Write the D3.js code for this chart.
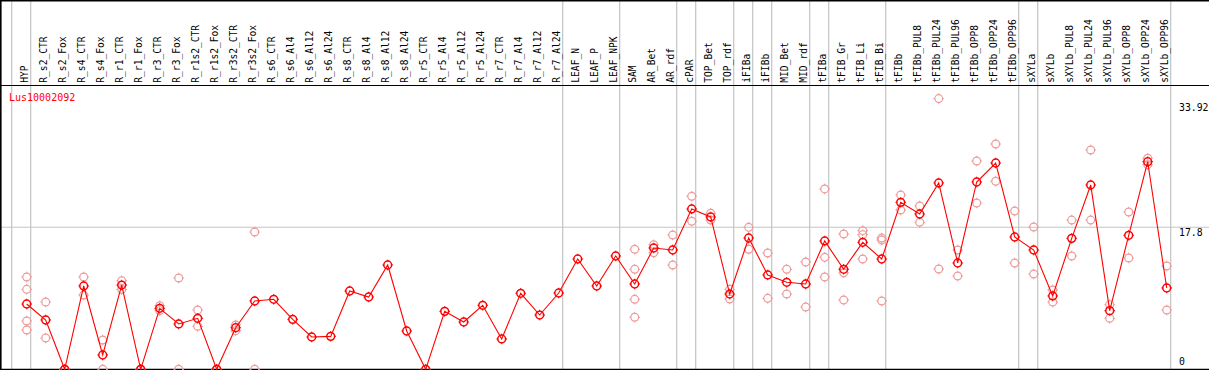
<!DOCTYPE html>
<html>
<head>
<meta charset="utf-8">
<style>
  body { margin: 0; background: #fff; }
  text { font-family: "DejaVu Sans Mono", monospace; }
</style>
</head>
<body>
<script src="https://d3js.org/d3.v7.min.js"></script>
<script>
var geneName = "Lus10002092";

var samples = ["HYP", "R_s2_CTR", "R_s2_Fox", "R_s4_CTR", "R_s4_Fox", "R_r1_CTR", "R_r1_Fox",
  "R_r3_CTR", "R_r3_Fox", "R_r1s2_CTR", "R_r1s2_Fox", "R_r3s2_CTR", "R_r3s2_Fox",
  "R_s6_CTR", "R_s6_Al4", "R_s6_Al12", "R_s6_Al24", "R_s8_CTR", "R_s8_Al4", "R_s8_Al12", "R_s8_Al24",
  "R_r5_CTR", "R_r5_Al4", "R_r5_Al12", "R_r5_Al24", "R_r7_CTR", "R_r7_Al4", "R_r7_Al12", "R_r7_Al24",
  "LEAF_N", "LEAF_P", "LEAF_NPK", "SAM", "AR_Bet", "AR_rdf", "cPAR", "TOP_Bet", "TOP_rdf",
  "iFIBa", "iFIBb", "MID_Bet", "MID_rdf", "tFIBa", "tFIB_Gr", "tFIB_Li", "tFIB_Bi",
  "tFIBb", "tFIBb_PUL8", "tFIBb_PUL24", "tFIBb_PUL96", "tFIBb_OPP8", "tFIBb_OPP24", "tFIBb_OPP96",
  "sXYLa", "sXYLb", "sXYLb_PUL8", "sXYLb_PUL24", "sXYLb_PUL96", "sXYLb_OPP8", "sXYLb_OPP24", "sXYLb_OPP96"];

// number of samples in each tissue group (separated by grey lines)
var groupSizes = [1, 28, 3, 3, 1, 2, 1, 1, 2, 1, 3, 7, 1, 7];

// mean expression
var meanExpr = [8.18, 6.18, 0, 10.44, 1.79, 10.56, 0, 7.64, 5.68, 6.39, 0, 5.21, 8.56,
  8.77, 6.26, 4.05, 4.13, 9.81, 9.06, 13.07, 4.80, 0, 7.26, 5.93, 8.02, 3.8, 9.52, 6.8, 9.56,
  13.82, 10.44, 14.2, 10.69, 15.2, 14.95, 20.09, 19.09, 9.43, 16.45, 11.82, 10.9, 10.69,
  16.08, 12.53, 15.91, 13.82, 20.92, 19.46, 23.35, 13.32, 23.47, 25.85, 16.58,
  14.95, 9.19, 16.41, 23.1, 7.35, 16.79, 26.01, 10.19];

// replicate values
var replicates = [
  [11.57, 10.02, 6.05, 4.92], [8.43, 3.92], [0, 0], [11.57, 9.31], [3.67, 0], [11.1, 10.0], [0, 0],
  [7.97, 7.35], [11.44, 0], [7.43, 5.39], [0, 0], [5.55, 4.84], [17.2, 0],
  [], [], [], [], [], [], [], [], [], [], [], [], [], [], [], [], [], [], [],
  [15.04, 12.53, 8.77, 6.52], [15.6, 14.6], [16.83, 13.07], [21.68, 18.55], [19.55, 18.7],
  [10.02, 8.81], [17.79, 15.04], [14.57, 8.89], [12.53, 9.43], [13.45, 7.81],
  [22.6, 14.03, 11.57], [16.95, 12.1, 8.68], [17.37, 16.87, 13.82], [16.45, 16.2, 8.56],
  [21.84, 19.96], [20.46, 18.42], [33.92, 12.57], [14.95, 11.69], [26.1, 20.84], [28.23, 23.56],
  [19.84, 13.32], [17.83, 11.94], [9.94, 8.43], [18.7, 14.2], [27.48, 18.7], [8.1, 6.39],
  [19.71, 13.95], [26.44, 25.64], [12.94, 7.43]];

var yTicks = [0, 17.8, 33.92];

var width = 1209, height = 370;
var headerH = 85.5, bottom = 369.3;

var svg = d3.select("body").append("svg")
  .attr("width", width)
  .attr("height", height);

var x = d3.scalePoint().domain(samples).range([26.7, 1166.7]);
var y = d3.scaleLinear().domain([0, d3.max(yTicks)]).range([bottom, 98.6]);

// grey separators between groups
var bounds = [x(samples[0]) - 15];
var idx = 0;
groupSizes.forEach(function (n) {
  idx += n;
  bounds.push(x(samples[idx - 1]) + 4);
});
svg.append("g").selectAll("line")
  .data(bounds).enter().append("line")
  .attr("x1", function (d) { return d; })
  .attr("x2", function (d) { return d; })
  .attr("y1", 0).attr("y2", bottom)
  .attr("stroke", "#c4c4c4").attr("stroke-width", 1.2);

// mid gridline
svg.append("line")
  .attr("x1", 0).attr("x2", width)
  .attr("y1", y(17.8)).attr("y2", y(17.8))
  .attr("stroke", "#c4c4c4").attr("stroke-width", 1.2);

// frame
svg.append("line").attr("x1", 0).attr("x2", width).attr("y1", 0.7).attr("y2", 0.7)
  .attr("stroke", "#000").attr("stroke-width", 1.4);
svg.append("line").attr("x1", 0).attr("x2", width).attr("y1", headerH).attr("y2", headerH)
  .attr("stroke", "#000").attr("stroke-width", 1.2);
svg.append("line").attr("x1", 0).attr("x2", width).attr("y1", 369.4).attr("y2", 369.4)
  .attr("stroke", "#000").attr("stroke-width", 1.4);
svg.append("line").attr("x1", 0.8).attr("x2", 0.8).attr("y1", 0).attr("y2", height)
  .attr("stroke", "#000").attr("stroke-width", 1.6);

// sample labels
svg.append("g").selectAll("text")
  .data(samples).enter().append("text")
  .attr("transform", function (d) { return "translate(" + (x(d) + 1.6) + "," + 82.7 + ") rotate(-90)"; })
  .attr("font-size", "9.6px")
  .attr("fill", "#000")
  .text(function (d) { return d; });

function marker(g, color, sw) {
  g.append("circle").attr("r", 3.9)
    .attr("fill", "none").attr("stroke", color).attr("stroke-width", sw);
  g.append("path").attr("d", "M0,-5.3V-3.6M0,3.6V5.3M-5.3,0H-3.6M3.6,0H5.3")
    .attr("stroke", color).attr("stroke-width", 1);
}

// replicates
var repPts = [];
replicates.forEach(function (arr, i) {
  arr.forEach(function (v) { repPts.push({ s: samples[i], v: v }); });
});
svg.append("g").selectAll("g")
  .data(repPts).enter().append("g")
  .attr("transform", function (d) { return "translate(" + x(d.s) + "," + y(d.v) + ")"; })
  .each(function () { marker(d3.select(this), "#ee9a9a", 1.2); });

// mean line
var line = d3.line()
  .x(function (d, i) { return x(samples[i]); })
  .y(function (d) { return y(d); });
svg.append("path")
  .datum(meanExpr)
  .attr("d", line)
  .attr("fill", "none")
  .attr("stroke", "#ff0000")
  .attr("stroke-width", 1.1);

svg.append("g").selectAll("g")
  .data(meanExpr).enter().append("g")
  .attr("transform", function (d, i) { return "translate(" + x(samples[i]) + "," + y(d) + ")"; })
  .each(function () { marker(d3.select(this), "#ff0000", 1.5); });

// y labels on the right
var labelOffset = { 0: -4, 17.8: 8.5, 33.92: 12 };
svg.append("g").selectAll("text")
  .data(yTicks).enter().append("text")
  .attr("x", 1179)
  .attr("y", function (d) { return y(d) + labelOffset[d]; })
  .attr("font-size", "9.8px")
  .attr("fill", "#000")
  .text(function (d) { return d; });

svg.append("text")
  .attr("x", 9).attr("y", 101)
  .attr("font-size", "10px")
  .attr("fill", "#ff0000")
  .text(geneName);
</script>
</body>
</html>
